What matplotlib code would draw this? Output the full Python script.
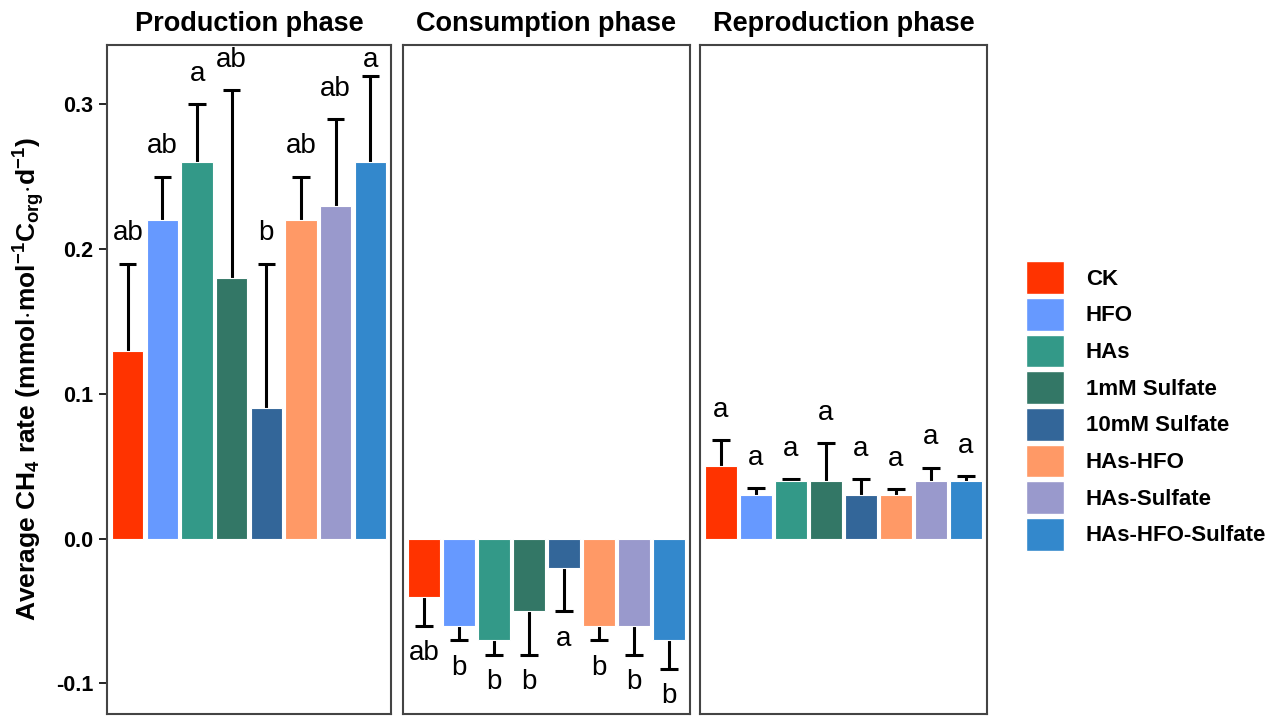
import numpy as np
import matplotlib
matplotlib.use('Agg')
import matplotlib.pyplot as plt
from matplotlib.patches import Patch

plt.rcParams['font.family'] = ['Liberation Sans', 'DejaVu Sans']
plt.rcParams['axes.unicode_minus'] = False
plt.rcParams['mathtext.fontset'] = 'custom'
plt.rcParams['mathtext.rm'] = 'Liberation Sans:bold'
plt.rcParams['mathtext.it'] = 'Liberation Sans:bold'
plt.rcParams['mathtext.bf'] = 'Liberation Sans:bold'
plt.rcParams['mathtext.default'] = 'rm'

treatments = ['CK', 'HFO', 'HAs', '1mM Sulfate', '10mM Sulfate', 'HAs-HFO', 'HAs-Sulfate', 'HAs-HFO-Sulfate']
colors = ['#FF3300', '#6699FF', '#339988', '#337766', '#336699', '#FF9966', '#9999CC', '#3388CC']
phases = ['Production phase', 'Consumption phase', 'Reproduction phase']

prod_mean = [0.13, 0.22, 0.26, 0.18, 0.09, 0.22, 0.23, 0.26]
prod_err = [0.06, 0.03, 0.04, 0.13, 0.10, 0.03, 0.06, 0.06]
prod_letters = ['ab', 'ab', 'a', 'ab', 'b', 'ab', 'ab', 'a']

cons_mean = [-0.04, -0.06, -0.07, -0.05, -0.02, -0.06, -0.06, -0.07]
cons_err = [0.02, 0.01, 0.01, 0.03, 0.03, 0.01, 0.02, 0.02]
cons_letters = ['ab', 'b', 'b', 'b', 'a', 'b', 'b', 'b']

repr_mean = [0.05, 0.03, 0.04, 0.04, 0.03, 0.03, 0.04, 0.04]
repr_err = [0.018, 0.005, 0.001, 0.026, 0.011, 0.004, 0.009, 0.003]
repr_letters = ['a', 'a', 'a', 'a', 'a', 'a', 'a', 'a']

means = [prod_mean, cons_mean, repr_mean]
errs = [prod_err, cons_err, repr_err]
letters = [prod_letters, cons_letters, repr_letters]

fig = plt.figure(figsize=(12.83, 7.16), dpi=100)
lefts = [0.0834, 0.3141, 0.5456]
widths = [0.2214, 0.2237, 0.2237]
x = np.arange(1, 9)

for i in range(3):
    ax = fig.add_axes([lefts[i], 0.003, widths[i], 0.934])
    m = np.array(means[i])
    e = np.array(errs[i])
    ax.bar(x, m, 0.9, color=colors, edgecolor='white', linewidth=0.8, zorder=2)
    # one-sided error bars (away from zero)
    tip = np.where(m >= 0, m + e, m - e)
    ax.vlines(x, m, tip, color='black', linewidth=2.2, zorder=1)
    ax.hlines(tip, x - 0.25, x + 0.25, color='black', linewidth=2.2, zorder=1)
    for j in range(8):
        if m[j] >= 0:
            ypos = min(tip[j] + 0.012, 0.322)  # keep inside the panel
            ax.text(x[j], ypos, letters[i][j], ha='center', va='bottom', fontsize=20)
        else:
            ax.text(x[j], tip[j] - 0.01, letters[i][j], ha='center', va='top', fontsize=20)
    ax.set_xlim(0.4, 8.6)
    ax.set_ylim(-0.121, 0.341)
    ax.set_xticks([])
    for s in ax.spines.values():
        s.set_color('#444444')
        s.set_linewidth(1.5)
    ax.set_title(phases[i], fontsize=19.5, fontweight='bold', pad=10)
    if i == 0:
        ax.set_yticks([-0.1, 0.0, 0.1, 0.2, 0.3])
        ax.set_yticklabels(['-0.1', '0.0', '0.1', '0.2', '0.3'], fontsize=15.5, fontweight='bold')
        ax.tick_params(axis='y', length=6, width=1.2, pad=4)
        ax.set_ylabel(r'Average CH$_4$ rate (mmol$\cdot$mol$^{-1}$C$_{org}$$\cdot$d$^{-1}$)',
                      fontsize=19, fontweight='bold', labelpad=6)
    else:
        ax.set_yticks([])

handles = [Patch(facecolor=c, edgecolor='white') for c in colors]
fig.legend(handles, treatments, loc='center left', bbox_to_anchor=(0.784, 0.433),
           frameon=False, handlelength=1.7, handleheight=1.9, labelspacing=0.17,
           handletextpad=1.0, prop={'weight': 'bold', 'size': 16})

fig.savefig('out.png', dpi=100)
